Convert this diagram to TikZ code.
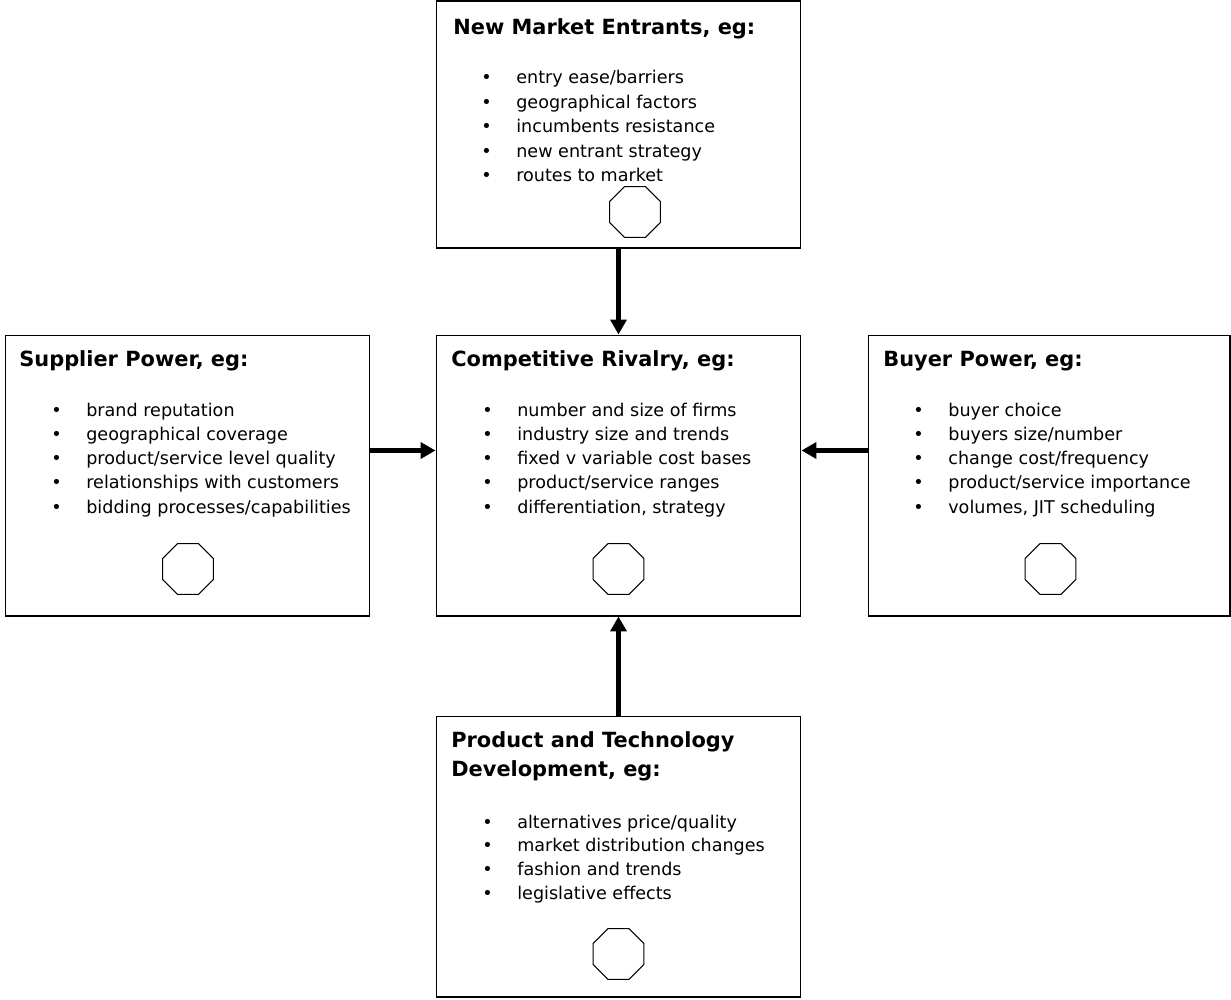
\documentclass[tikz,border=0pt]{standalone}
\usepackage{fontspec}
\setmainfont{DejaVu Sans}
\usetikzlibrary{shapes.geometric,arrows.meta,positioning}

\tikzset{
  panel/.style={draw, line width=0.6pt, minimum width=7.3cm, inner sep=0},
  head/.style={anchor=base west, inner sep=0, font=\fontsize{11.9}{14}\selectfont\bfseries},
  item/.style={anchor=base west, inner sep=0, font=\fontsize{10}{12}\selectfont,
    execute at begin node={\llap{\textbullet\hspace{14pt}}}},
  octa/.style={draw, regular polygon, regular polygon sides=8, minimum size=1.1cm, inner sep=0, line width=0.6pt},
  push/.style={line width=2.3pt, -{Triangle[length=0.3cm,width=0.32cm]}}
}

\begin{document}
\begin{tikzpicture}[x=0.02cm,y=-0.02cm]
		\useasboundingbox (0,0) rectangle (1231,1000);
		% the five boxes
		\node[panel, minimum height=4.94cm] (entrants) at (618.5,124.5) {};
		\node[panel, minimum height=5.62cm] (suppliers) at (187.5,475.5) {};
		\node[panel, minimum height=5.62cm] (rivalry) at (618.5,475.5) {};
		\node[panel, minimum height=5.62cm, minimum width=7.24cm] (buyers) at (1049,475.5) {};
		\node[panel, minimum height=5.62cm] (product) at (618.5,856.5) {};
		% headings
		\node[head] (entrants-h) at (453,35) {New Market Entrants, eg:};
		\node[head] (suppliers-h) at (19,366) {Supplier Power, eg:};
		\node[head] (rivalry-h) at (451,366) {Competitive Rivalry, eg:};
		\node[head] (buyers-h) at (883,366) {Buyer Power, eg:};
		\node[head] (product-h1) at (451,747) {Product and Technology};
		\node[head] (product-h2) at (451,776) {Development, eg:};
		% lists
		\foreach \t [count=\i] in {entry ease/barriers, geographical factors, incumbents resistance, new entrant strategy, routes to market}
			\node[item] (entrants-\i) at (516,{84+24.5*(\i-1)}) {\t};
		\foreach \t [count=\i] in {brand reputation, geographical coverage, product/service level quality, relationships with customers, bidding processes/capabilities}
			\node[item] (suppliers-\i) at (86,{416+24.3*(\i-1)}) {\t};
		\foreach \t [count=\i] in {number and size of firms, industry size and trends, fixed v variable cost bases, product/service ranges, {differentiation, strategy}}
			\node[item] (rivalry-\i) at (517,{416+24.3*(\i-1)}) {\t};
		\foreach \t [count=\i] in {buyer choice, buyers size/number, change cost/frequency, product/service importance, {volumes, JIT scheduling}}
			\node[item] (buyers-\i) at (948,{416+24.3*(\i-1)}) {\t};
		\foreach \t [count=\i] in {alternatives price/quality, market distribution changes, fashion and trends, legislative effects}
			\node[item] (product-\i) at (517,{828+23.8*(\i-1)}) {\t};
		% octagons
		\node[octa] (entrants-o) at (635,212) {};
		\node[octa] (suppliers-o) at (188,569) {};
		\node[octa] (rivalry-o) at (618.5,569) {};
		\node[octa] (buyers-o) at (1050.5,569) {};
		\node[octa] (product-o) at (618.5,954) {};
		% arrows
		\draw[push] (entrants) -- (rivalry);
		\draw[push] (product) -- (rivalry);
		\draw[push] ([yshift=0.5cm]suppliers.east) -- ([yshift=0.5cm]rivalry.west);
		\draw[push] ([yshift=0.5cm]buyers.west) -- ([yshift=0.5cm]rivalry.east);
\end{tikzpicture}
\end{document}
